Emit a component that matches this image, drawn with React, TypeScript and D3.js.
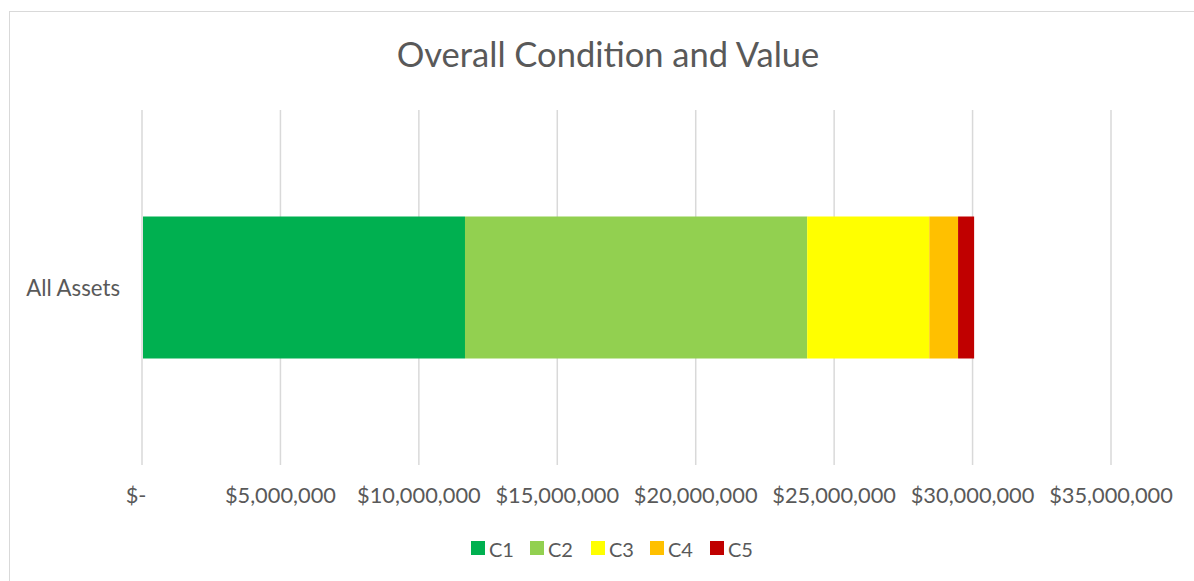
import React from "react";
import * as d3 from "d3";

const categories = ["All Assets"];
const seriesNames = ["C1", "C2", "C3", "C4", "C5"];
const seriesColors = ["#00B050", "#92D050", "#FFFF00", "#FFC000", "#C00000"];
const c1Values = [11630000];
const c2Values = [12360000];
const c3Values = [4410000];
const c4Values = [1040000];
const c5Values = [580000];
const tickValues = [0, 5000000, 10000000, 15000000, 20000000, 25000000, 30000000, 35000000];
const titleText = "Overall Condition and Value";

const W = 1194;
const H = 581;
const FONT = "Lato, 'Open Sans', sans-serif";
const TEXT = "#595959";

export default function App() {
  const seriesValues = [c1Values, c2Values, c3Values, c4Values, c5Values];
  const rows = categories.map((cat, i) => {
    const r: any = { cat };
    seriesNames.forEach((s, j) => (r[s] = seriesValues[j][i]));
    return r;
  });
  const stack = d3.stack<any>().keys(seriesNames)(rows);

  const x = d3.scaleLinear().domain([0, 35000000]).range([142, 1111]);
  const y = d3.scaleBand().domain(categories).range([110, 465]).paddingInner(0.6).paddingOuter(0.3);

  const fmt = (v: number) => (v === 0 ? "$-" : "$" + d3.format(",")(v));

  const legendX = [471, 530, 591, 650, 710];

  return (
    <svg width={W} height={H} style={{ position: "absolute", left: 0, top: 0 }} fontFamily={FONT}>
      <rect x={0} y={0} width={W} height={H} fill="#fff" />
      <line x1={9} x2={W} y1={11.5} y2={11.5} stroke="#D9D9D9" />
      <line x1={9.5} x2={9.5} y1={11} y2={H} stroke="#D9D9D9" />
      <text x={608} y={67} textAnchor="middle" fontSize={34.5} fill={TEXT}>
        {titleText}
      </text>
      {tickValues.map((t) => (
        <line key={"g" + t} x1={x(t)} x2={x(t)} y1={110} y2={465} stroke="#D9D9D9" strokeWidth={1.5} />
      ))}
      {stack.map((layer, j) =>
        layer.map((d, i) => (
          <rect
            key={seriesNames[j] + i}
            x={x(d[0]) + 1}
            y={y(categories[i])}
            width={x(d[1]) - x(d[0])}
            height={y.bandwidth()}
            fill={seriesColors[j]}
          />
        ))
      )}
      {tickValues.map((t) => (
        <text key={"t" + t} x={t === 0 ? x(t) - 6 : x(t)} y={503} textAnchor="middle" fontSize={21.8} fill={TEXT}>
          {fmt(t)}
        </text>
      ))}
      {categories.map((c) => (
        <text key={c} x={120} y={(y(c) as number) + y.bandwidth() / 2 + 8} textAnchor="end" fontSize={22.2} fill={TEXT}>
          {c}
        </text>
      ))}
      {seriesNames.map((s, j) => (
        <g key={s} transform={`translate(${legendX[j]},541)`}>
          <rect x={0} y={0} width={14} height={14} fill={seriesColors[j]} />
          <text x={18} y={16} fontSize={20} fill={TEXT}>
            {s}
          </text>
        </g>
      ))}
    </svg>
  );
}
